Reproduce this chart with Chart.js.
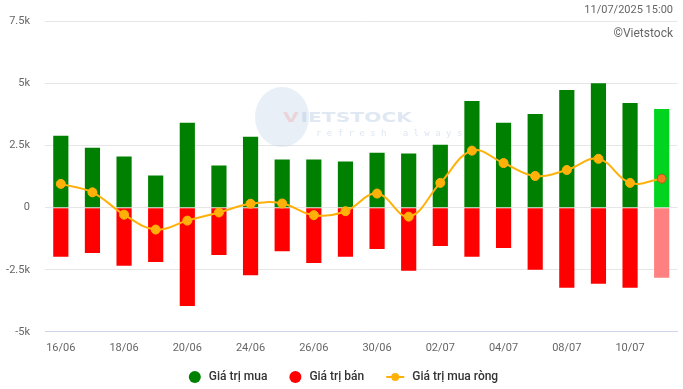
<!DOCTYPE html>
<html>
<head>
<meta charset="utf-8">
<script src="https://cdn.jsdelivr.net/npm/chart.js@4.4.1/dist/chart.umd.min.js"></script>
<style>
  html, body { margin: 0; padding: 0; background: #fff; }
  #wrap { width: 683px; height: 389px; position: relative; }
</style>
</head>
<body>
<div id="wrap"><canvas id="myChart"></canvas></div>
<script>
'use strict';

// trading days
const dates = ['16/06', '17/06', '18/06', '19/06', '20/06', '23/06', '24/06', '25/06', '26/06', '27/06',
  '30/06', '01/07', '02/07', '03/07', '04/07', '07/07', '08/07', '09/07', '10/07', '11/07'];

// values in billion VND
const buyValues = [2900, 2420, 2060, 1300, 3420, 1700, 2860, 1940, 1940, 1860,
  2220, 2180, 2540, 4300, 3420, 3780, 4740, 5020, 4220, 3980];
const sellValues = [-1980, -1820, -2340, -2190, -3960, -1910, -2720, -1750, -2230, -1980,
  -1660, -2540, -1540, -1980, -1620, -2500, -3220, -3060, -3220, -2820];
const netValues = [960, 620, -280, -880, -520, -190, 160, 170, -300, -140,
  570, -360, 1000, 2300, 1800, 1280, 1520, 1970, 1000, 1170];

const yTicks = [-5000, -2500, 0, 2500, 5000, 7500];
const seriesNames = ['Giá trị mua', 'Giá trị bán', 'Giá trị mua ròng'];
const stampText = '11/07/2025 15:00';
const creditText = '©Vietstock';

const last = dates.length - 1;
const buyColors = buyValues.map((v, i) => i === last ? '#00d41f' : '#008000');
const sellColors = sellValues.map((v, i) => i === last ? '#ff8080' : '#ff0000');
const netFill = netValues.map((v, i) => i === last ? '#f47a1f' : '#ffb10a');
const netBorder = netValues.map((v, i) => i === last ? '#b85a1a' : '#ffb10a');

const extras = {
  id: 'extras',
  beforeDatasetsDraw(chart) {
    let g = chart.ctx;
    g.save();
    // faint watermark
    g.fillStyle = 'rgba(190, 210, 232, 0.35)';
    g.beginPath();
    g.ellipse(282, 117, 27, 30, 0, 0, Math.PI * 2);
    g.fill();
    g.textBaseline = 'middle';
    g.save();
    g.translate(283, 118);
    g.scale(1.45, 1);
    g.font = 'bold 14px "DejaVu Sans"';
    g.fillStyle = 'rgba(240, 150, 150, 0.3)';
    g.fillText('V', 0, 0);
    g.fillStyle = 'rgba(175, 198, 225, 0.4)';
    g.fillText('IETSTOCK', 12, 0);
    g.restore();
    g.font = '9px "DejaVu Sans Mono"';
    g.fillStyle = 'rgba(180, 200, 225, 0.45)';
    g.fillText('r e f r e s h   a l w a y s', 316, 134);
    g.restore();
  },
  afterDraw(chart) {
    let g = chart.ctx;
    g.save();
    g.font = '11px Roboto';
    g.fillStyle = '#666';
    g.textAlign = 'right';
    g.textBaseline = 'middle';
    g.fillText(stampText, 673, 10);
    g.font = '12px Roboto';
    g.fillText(creditText, 673, 34);

    // legend, centred under the chart
    g.font = '500 12px Roboto';
    g.textAlign = 'left';
    let symbols = ['#008000', '#ff0000', '#ffb10a'];
    let widths = seriesNames.map((n, i) => (i === 2 ? 18 : 12) + 8 + g.measureText(n).width);
    let gap = 22;
    let total = widths.reduce((a, b) => a + b, 0) + gap * (widths.length - 1);
    let x = (chart.width - total) / 2 + 2;
    let y = 377;
    for (let i = 0; i < seriesNames.length; i++) {
      g.fillStyle = symbols[i];
      g.strokeStyle = symbols[i];
      let w = i === 2 ? 18 : 12;
      if (i === 2) {
        g.lineWidth = 2;
        g.beginPath();
        g.moveTo(x, y);
        g.lineTo(x + w, y);
        g.stroke();
        g.beginPath();
        g.arc(x + w / 2, y, 4, 0, Math.PI * 2);
        g.fill();
      } else {
        g.beginPath();
        g.arc(x + 6, y, 6, 0, Math.PI * 2);
        g.fill();
      }
      g.fillStyle = '#333';
      g.fillText(seriesNames[i], x + w + 8, y);
      x += widths[i] + gap;
    }
    g.restore();
  }
};

const ctx = document.getElementById('myChart');

new Chart(ctx, {
  type: 'bar',
  data: {
    labels: dates,
    datasets: [
      {
        label: seriesNames[0],
        data: buyValues,
        backgroundColor: buyColors,
        grouped: false,
        barPercentage: 0.6,
        categoryPercentage: 0.8,
        order: 2
      },
      {
        label: seriesNames[1],
        data: sellValues,
        backgroundColor: sellColors,
        grouped: false,
        barPercentage: 0.6,
        categoryPercentage: 0.8,
        order: 2
      },
      {
        type: 'line',
        label: seriesNames[2],
        data: netValues,
        borderColor: '#ffb10a',
        borderWidth: 2,
        tension: 0.4,
        pointRadius: 4.5,
        pointHoverRadius: 4.5,
        pointBackgroundColor: netFill,
        pointBorderColor: netBorder,
        pointBorderWidth: 1,
        order: 1
      }
    ]
  },
  options: {
    responsive: true,
    maintainAspectRatio: false,
    animation: false,
    layout: { padding: { left: 6, right: 5, top: 12, bottom: 24 } },
    plugins: {
      tooltip: { enabled: false },
      legend: { display: false }
    },
    scales: {
      x: {
        grid: { display: false, drawTicks: false },
        border: { color: '#ccd6eb' },
        ticks: {
          autoSkip: false,
          maxRotation: 0,
          color: '#666',
          font: { family: 'Roboto', size: 11 },
          padding: 10,
          callback(value, index) {
            return index % 2 === 0 ? dates[index] : '';
          }
        }
      },
      y: {
        min: yTicks[0],
        max: yTicks[yTicks.length - 1],
        afterBuildTicks(axis) {
          axis.ticks = yTicks.map(v => ({ value: v }));
        },
        afterFit(axis) {
          axis.width = 39;
        },
        grid: { color: '#e6e6e6', drawTicks: false },
        border: { display: false },
        ticks: {
          color: '#666',
          padding: 15,
          font: { family: 'Roboto', size: 11 },
          callback(value) {
            return value === 0 ? '0' : (value / 1000) + 'k';
          }
        }
      }
    }
  },
  plugins: [extras]
});
</script>
</body>
</html>
